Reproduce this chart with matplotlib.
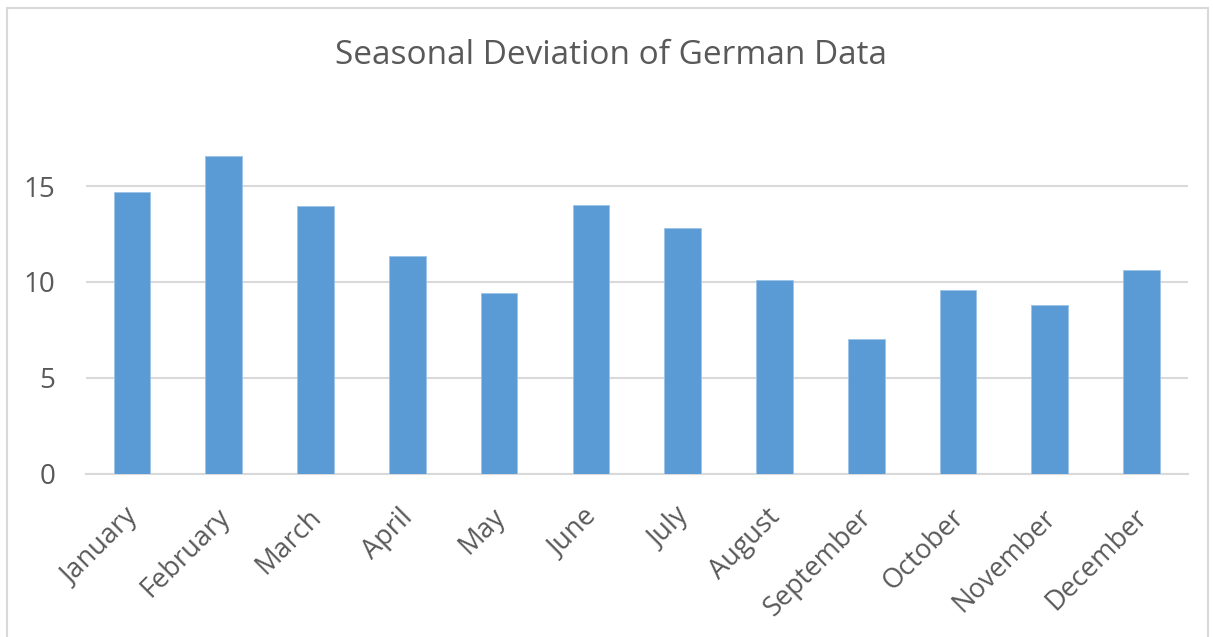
import matplotlib.pyplot as plt
import matplotlib.transforms as mtransforms
from matplotlib.patches import Rectangle

months = ['January', 'February', 'March', 'April', 'May', 'June', 'July',
          'August', 'September', 'October', 'November', 'December']
deviation = [14.70, 16.58, 13.94, 11.37, 9.43, 14.0, 12.80, 10.09, 7.05, 9.57, 8.80, 10.64]
y_ticks = [0, 5, 10, 15]

plt.rcParams['font.family'] = ['Open Sans', 'DejaVu Sans']
text_color = '#595959'

fig = plt.figure(figsize=(12.13, 6.37), dpi=100)
ax = fig.add_axes([0.0709, 0.256, 0.9081, 0.5424])

# chart border (bottom edge runs off the image)
fig.patches.append(Rectangle((7 / 1213, -0.05), 1201 / 1213, 1.05 - 8 / 637,
                             transform=fig.transFigure, fill=False,
                             edgecolor='#d9d9d9', linewidth=1.5))

x = range(len(months))
ax.bar(x, deviation, width=0.4, color='#5b9bd5', edgecolor='#9dc3e6',
       linewidth=0.6, zorder=3)

ax.set_xlim(-0.5, len(months) - 0.5)
ax.set_ylim(0, 18)
ax.set_yticks(y_ticks)
ax.yaxis.grid(True, color='#d9d9d9', linewidth=1.5, zorder=0)

for s in ['top', 'right', 'left']:
    ax.spines[s].set_visible(False)
ax.spines['bottom'].set_color('#d9d9d9')
ax.spines['bottom'].set_linewidth(1.5)

ax.set_xticks(list(x))
ax.set_xticklabels(months, rotation=45, ha='right', va='top', rotation_mode='anchor')
ax.tick_params(axis='both', length=0, colors=text_color)
ax.tick_params(axis='x', labelsize=19.5, pad=21)
ax.tick_params(axis='y', labelsize=20, pad=22)

# nudge the rotated month labels a little to the left
shift = mtransforms.ScaledTranslation(-8 / 100, 0, fig.dpi_scale_trans)
for lab in ax.get_xticklabels():
    lab.set_transform(lab.get_transform() + shift)

fig.text(0.504, 0.913, 'Seasonal Deviation of German Data', ha='center', va='center',
         fontsize=24, color=text_color)

plt.savefig('out.png', dpi=100)
